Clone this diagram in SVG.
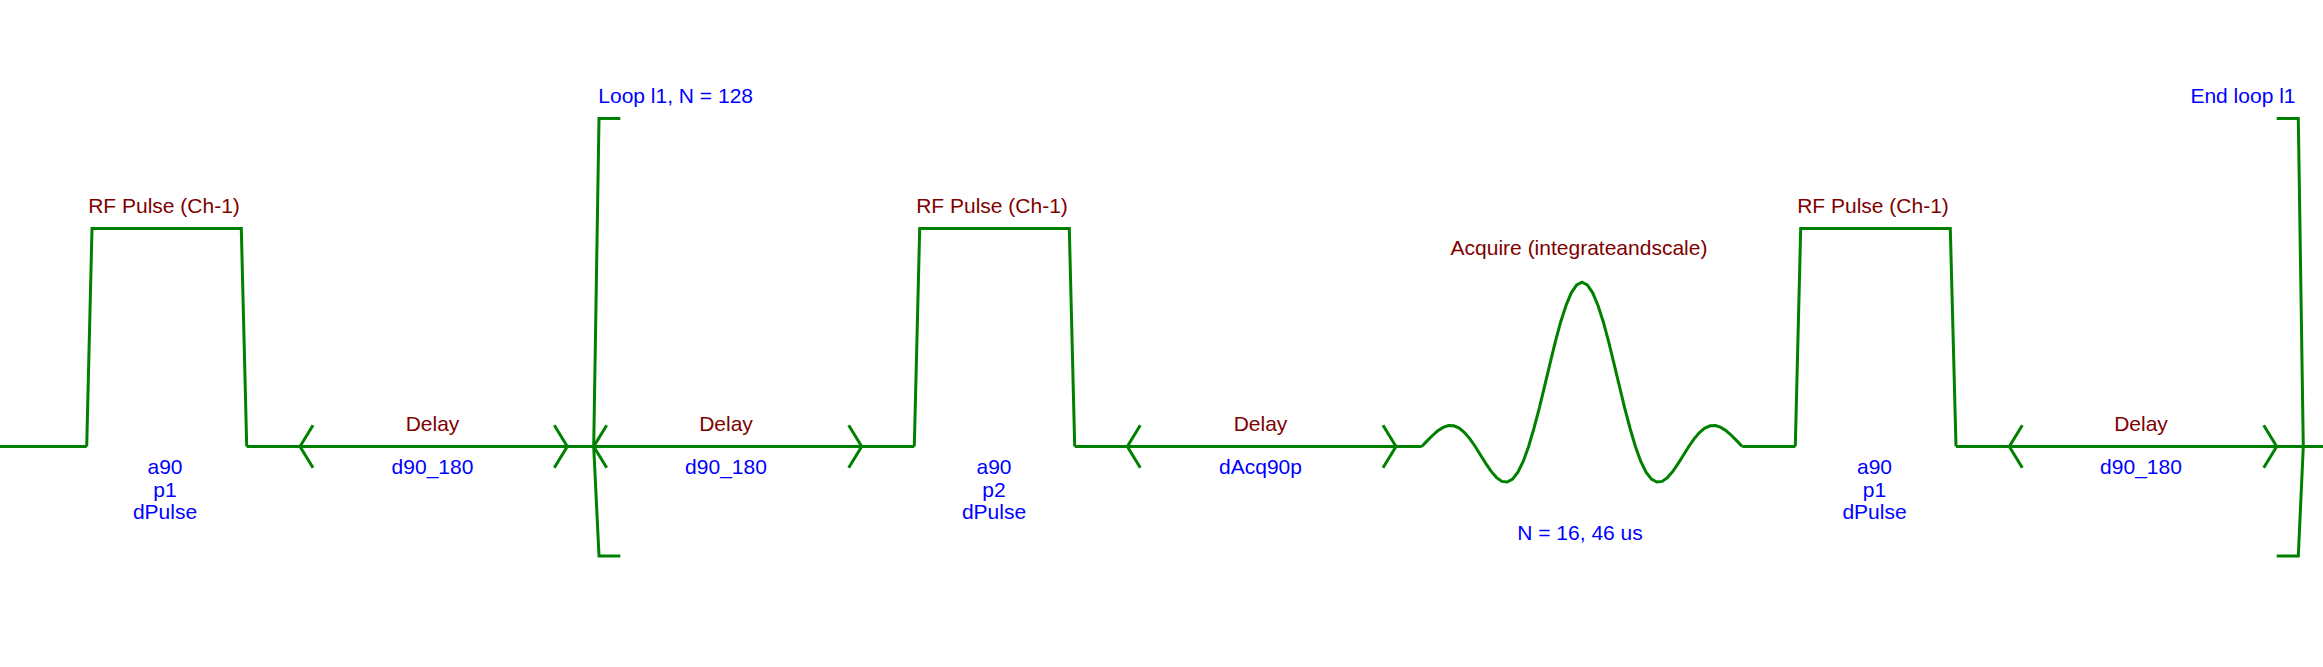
<svg xmlns="http://www.w3.org/2000/svg" width="2323" height="667" viewBox="0 0 2323 667">
<style>
.w{fill:none;stroke:#008000;stroke-width:3;stroke-linejoin:miter}
.t{font-family:"Liberation Sans",Arial,sans-serif;font-size:21px;text-anchor:middle}
.lbl{fill:#800000}
.par{fill:#0000FF}
.d{marker-start:url(#chev);marker-end:url(#chev)}
</style>
<defs>
<marker id="chev" markerUnits="userSpaceOnUse" orient="auto-start-reverse" markerWidth="40" markerHeight="60" viewBox="-20 -30 40 60" refX="0" refY="0" overflow="visible">
<path d="M-13,-21.3 L0,0 L-13,21.3" fill="none" stroke="#008000" stroke-width="3"/>
</marker>
</defs>
<rect width="2323" height="667" fill="#ffffff"/>
<g id="connectors">
<path class="w" d="M0,446.5 H86.7"/>
<path class="w" d="M246.7,446.5 H914.3"/>
<path class="w" d="M1074.7,446.5 H1421.8"/>
<path class="w" d="M1742.2,446.5 H1795.3"/>
<path class="w" d="M1956,446.5 H2323"/>
</g>
<g id="pulse1">
<path class="w" d="M86.7,446.5 L92,228.5 H241.3 L246.7,446.5"/>
<text class="t lbl" x="164" y="213">RF Pulse (Ch-1)</text>
<text class="t par" x="165" y="474">a90</text>
<text class="t par" x="165" y="496.5">p1</text>
<text class="t par" x="165" y="518.5">dPulse</text>
</g>
<g id="delay1">
<path class="w d" d="M300,446.5 H567.3"/>
<text class="t lbl" x="432.5" y="431">Delay</text>
<text class="t par" x="432.5" y="474">d90_180</text>
</g>
<g id="loopStart">
<path class="w" d="M620.3,118.5 H599 L593.7,446.5 L599,556 H620.3"/>
<text class="t par" x="598.3" y="103" style="text-anchor:start">Loop l1, N = 128</text>
</g>
<g id="delay2">
<path class="w d" d="M593.7,446.5 H861.7"/>
<text class="t lbl" x="726" y="431">Delay</text>
<text class="t par" x="726" y="474">d90_180</text>
</g>
<g id="pulse2">
<path class="w" d="M914.3,446.5 L919.7,228.5 H1069.3 L1074.7,446.5"/>
<text class="t lbl" x="992" y="213">RF Pulse (Ch-1)</text>
<text class="t par" x="994" y="474">a90</text>
<text class="t par" x="994" y="496.5">p2</text>
<text class="t par" x="994" y="518.5">dPulse</text>
</g>
<g id="delay3">
<path class="w d" d="M1127.3,446.5 H1396"/>
<text class="t lbl" x="1260.5" y="431">Delay</text>
<text class="t par" x="1260.5" y="474">dAcq90p</text>
</g>
<g id="acquire">
<path class="w" d="M1421.8,446.5 L1427.1,440.9 L1432.5,435.5 L1437.8,430.8 L1443.2,427.4 L1448.5,425.6 L1453.8,425.8 L1459.2,428.1 L1464.5,432.5 L1469.9,438.8 L1475.2,446.5 L1480.5,455 L1485.9,463.6 L1491.2,471.4 L1496.6,477.6 L1501.9,481.4 L1507.2,482 L1512.6,479.1 L1517.9,472.1 L1523.3,461.2 L1528.6,446.5 L1533.9,428.5 L1539.3,408.1 L1544.6,386.1 L1550,363.6 L1555.3,341.9 L1560.6,322.2 L1566,305.5 L1571.3,292.8 L1576.7,284.9 L1582,282.2 L1587.3,284.9 L1592.7,292.8 L1598,305.5 L1603.4,322.2 L1608.7,341.9 L1614,363.6 L1619.4,386.1 L1624.7,408.1 L1630.1,428.5 L1635.4,446.5 L1640.7,461.2 L1646.1,472.1 L1651.4,479.1 L1656.8,482 L1662.1,481.4 L1667.4,477.6 L1672.8,471.4 L1678.1,463.6 L1683.5,455 L1688.8,446.5 L1694.1,438.8 L1699.5,432.5 L1704.8,428.1 L1710.2,425.8 L1715.5,425.6 L1720.8,427.4 L1726.2,430.8 L1731.5,435.5 L1736.9,440.9 L1742.2,446.5"/>
<text class="t lbl" x="1579" y="255">Acquire (integrateandscale)</text>
<text class="t par" x="1580" y="540">N = 16, 46 us</text>
</g>
<g id="pulse3">
<path class="w" d="M1795.3,446.5 L1800.7,228.5 H1950.3 L1956,446.5"/>
<text class="t lbl" x="1873" y="213">RF Pulse (Ch-1)</text>
<text class="t par" x="1874.5" y="474">a90</text>
<text class="t par" x="1874.5" y="496.5">p1</text>
<text class="t par" x="1874.5" y="518.5">dPulse</text>
</g>
<g id="delay4">
<path class="w d" d="M2009.3,446.5 H2276.7"/>
<text class="t lbl" x="2141" y="431">Delay</text>
<text class="t par" x="2141" y="474">d90_180</text>
</g>
<g id="loopEnd">
<path class="w" d="M2276.7,118.5 H2298.3 L2303.3,446.5 L2298.3,556 H2276.7"/>
<text class="t par" x="2295.5" y="103" style="text-anchor:end">End loop l1</text>
</g>
</svg>
